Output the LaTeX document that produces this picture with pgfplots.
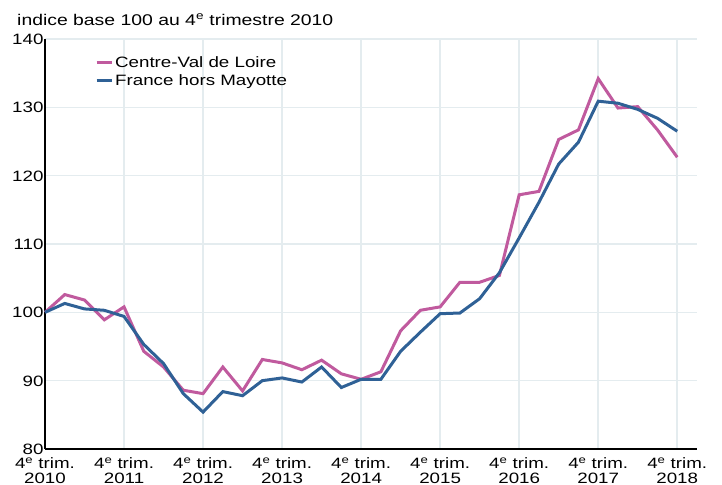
\documentclass[border=0pt]{standalone}
\usepackage{pgfplots}
\pgfplotsset{compat=1.18}
\usepackage{fontspec}
\setmainfont[FakeStretch=1.25]{Liberation Sans}
\definecolor{cvl}{HTML}{C05A9E}
\definecolor{fra}{HTML}{2F6196}
\definecolor{gridc}{HTML}{E4ECEF}
\begin{document}
\begin{tikzpicture}
\path[use as bounding box] (-45bp,-36bp) rectangle (677bp,449bp);
\begin{axis}[
  scale only axis,
  width=652bp, height=410bp,
  xmin=0, xmax=33, ymin=80, ymax=140,
  axis x line*=bottom, axis y line*=left,
  axis line style={-, black, line width=1.6bp},
  xtick={0,4,...,32},
  xticklabels={4\textsuperscript{e} trim.\\2010,4\textsuperscript{e} trim.\\2011,4\textsuperscript{e} trim.\\2012,4\textsuperscript{e} trim.\\2013,4\textsuperscript{e} trim.\\2014,4\textsuperscript{e} trim.\\2015,4\textsuperscript{e} trim.\\2016,4\textsuperscript{e} trim.\\2017,4\textsuperscript{e} trim.\\2018},
  ytick={80,90,...,140},
  major tick length=0pt,
  grid=major,
  major grid style={gridc, line width=1.5bp},
  /pgf/number format/assume math mode=true,
  tick label style={font=\fontsize{15bp}{15bp}\selectfont, inner sep=0.8bp},
  x tick label style={align=center, yshift=-7.5bp},
  y tick label style={xshift=-0.5bp, text height=10.7bp, text depth=0pt},
  legend style={draw=none, fill=none, at={(rel axis cs:0.072,0.968)}, anchor=north west,
    font=\fontsize{15bp}{18bp}\selectfont, row sep=1.5bp},
  legend cell align=left,
  legend image code/.code={\draw[#1, line width=3bp] (0bp,0bp) -- (15bp,0bp);},
  clip=false,
]
\addplot[cvl, line width=3bp] coordinates {
(0,100) (1,102.6) (2,101.8) (3,98.9) (4,100.8) (5,94.3) (6,92.0) (7,88.6) (8,88.1)
(9,92.0) (10,88.5) (11,93.1) (12,92.6) (13,91.6) (14,93.0) (15,91.0) (16,90.2)
(17,91.3) (18,97.3) (19,100.3) (20,100.8) (21,104.4) (22,104.4) (23,105.4) (24,117.2)
(25,117.7) (26,125.3) (27,126.7) (28,134.2) (29,129.9) (30,130.1) (31,126.7) (32,122.7)};
\addlegendentry{Centre-Val de Loire}
\addplot[fra, line width=3bp] coordinates {
(0,100) (1,101.3) (2,100.5) (3,100.3) (4,99.4) (5,95.3) (6,92.5) (7,88.1) (8,85.4)
(9,88.4) (10,87.8) (11,90.0) (12,90.4) (13,89.8) (14,92.0) (15,89.0) (16,90.2)
(17,90.2) (18,94.3) (19,97.1) (20,99.8) (21,99.9) (22,102.0) (23,105.8) (24,110.9)
(25,116.1) (26,121.7) (27,124.9) (28,130.9) (29,130.6) (30,129.7) (31,128.4) (32,126.5)};
\addlegendentry{France hors Mayotte}
\node[anchor=base west, font=\fontsize{15.5bp}{18bp}\selectfont, inner sep=0pt]
  at ([xshift=-28bp, yshift=14bp]rel axis cs:0,1) {indice base 100 au 4\textsuperscript{e} trimestre 2010};
\end{axis}
\end{tikzpicture}
\end{document}
